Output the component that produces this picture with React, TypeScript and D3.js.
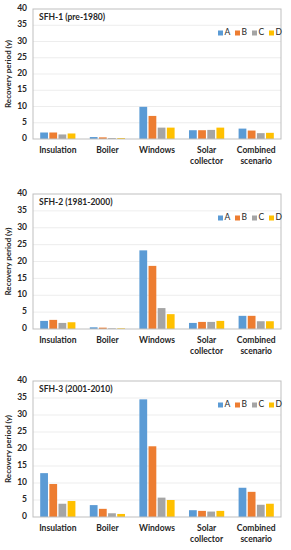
import React from "react";
import * as d3 from "d3";

const categories = ["Insulation", "Boiler", "Windows", "Solar collector", "Combined scenario"];
const seriesNames = ["A", "B", "C", "D"];
const yTicks = [0, 5, 10, 15, 20, 25, 30, 35, 40];

const titles = ["SFH-1 (pre-1980)", "SFH-2 (1981-2000)", "SFH-3 (2001-2010)"];

// values per category: [A, B, C, D]
const sfh1 = [
  [2.0, 2.0, 1.4, 1.7],
  [0.6, 0.5, 0.3, 0.3],
  [9.9, 7.1, 3.5, 3.5],
  [2.7, 2.7, 2.8, 3.5],
  [3.2, 2.6, 1.8, 1.9],
];
const sfh2 = [
  [2.4, 2.7, 1.8, 2.0],
  [0.5, 0.4, 0.2, 0.2],
  [23.3, 18.7, 6.2, 4.4],
  [1.8, 2.1, 2.1, 2.4],
  [3.9, 3.9, 2.3, 2.3],
];
const sfh3 = [
  [12.9, 9.7, 3.9, 4.7],
  [3.5, 2.4, 1.1, 0.9],
  [34.6, 20.8, 5.7, 5.0],
  [2.0, 1.8, 1.6, 1.8],
  [8.6, 7.4, 3.6, 3.9],
];

const colors = ["#5b9bd5", "#ed7d31", "#a5a5a5", "#ffc000"];
const font = "Lato, 'Open Sans', sans-serif";

const W = 291;
const H = 550;
const left = 33;
const right = 281;
const panels = [
  { top: 9, bottom: 139, data: sfh1 },
  { top: 194, bottom: 329, data: sfh2 },
  { top: 381, bottom: 517, data: sfh3 },
];

const x0 = d3
  .scaleBand<string>()
  .domain(categories)
  .range([left, right])
  .paddingInner(0.29)
  .paddingOuter(0.145);
const x1 = d3.scaleBand<string>().domain(seriesNames).range([0, x0.bandwidth()]).paddingInner(0.15);

function labelLines(c: string) {
  const parts = c.split(" ");
  return parts.length > 1 ? parts : [c];
}

function Panel({ top, bottom, data, title }: any) {
  const y = d3.scaleLinear().domain([0, 40]).range([bottom, top]);
  return (
    <g>
      {yTicks.map((t) => (
        <g key={t}>
          {t > 0 && t < 40 && (
            <line x1={left} x2={right} y1={y(t)} y2={y(t)} stroke="#e8e8e8" strokeWidth={0.8} />
          )}
          <text
            x={27}
            y={y(t)}
            textAnchor="end"
            dominantBaseline="middle"
            fontSize={8.5}
            fontWeight="bold"
            fill="#262626"
          >
            {t}
          </text>
        </g>
      ))}
      {categories.map((c, i) => (
        <g key={c}>
          {data[i].map((v: number, j: number) => (
            <rect
              key={j}
              x={(x0(c) as number) + (x1(seriesNames[j]) as number)}
              y={y(v)}
              width={x1.bandwidth()}
              height={bottom - y(v)}
              fill={colors[j]}
            />
          ))}
          {labelLines(c).map((ln, k) => (
            <text
              key={k}
              x={(x0(c) as number) + x0.bandwidth() / 2}
              y={bottom + 12 + k * 11}
              textAnchor="middle"
              dominantBaseline="middle"
              fontSize={8.5}
              fontWeight="bold"
              fill="#262626"
            >
              {ln}
            </text>
          ))}
        </g>
      ))}
      <rect x={left} y={top} width={right - left} height={bottom - top} fill="none" stroke="#bfbfbf" strokeWidth={1} />
      <text x={39} y={top + 9} dominantBaseline="middle" fontSize={8.5} fontWeight="bold" fill="#262626">
        {title}
      </text>
      {seriesNames.map((s, j) => (
        <g key={s} transform={`translate(${218 + j * 17},${top + 24})`}>
          <rect x={0} y={-2.5} width={5} height={5} fill={colors[j]} />
          <text x={6.5} y={0} dominantBaseline="middle" fontSize={8.5} fill="#262626">
            {s}
          </text>
        </g>
      ))}
      <text
        transform={`translate(9,${(top + bottom) / 2}) rotate(-90)`}
        textAnchor="middle"
        dominantBaseline="middle"
        fontSize={8}
        fontWeight="bold"
        fill="#262626"
      >
        Recovery period (y)
      </text>
    </g>
  );
}

export default function App() {
  return (
    <svg
      width={W}
      height={H}
      viewBox={`0 0 ${W} ${H}`}
      style={{ position: "absolute", left: 0, top: 0, background: "#fff", fontFamily: font }}
    >
      <rect width={W} height={H} fill="#fff" />
      {panels.map((p, i) => (
        <Panel key={i} top={p.top} bottom={p.bottom} data={p.data} title={titles[i]} />
      ))}
    </svg>
  );
}
